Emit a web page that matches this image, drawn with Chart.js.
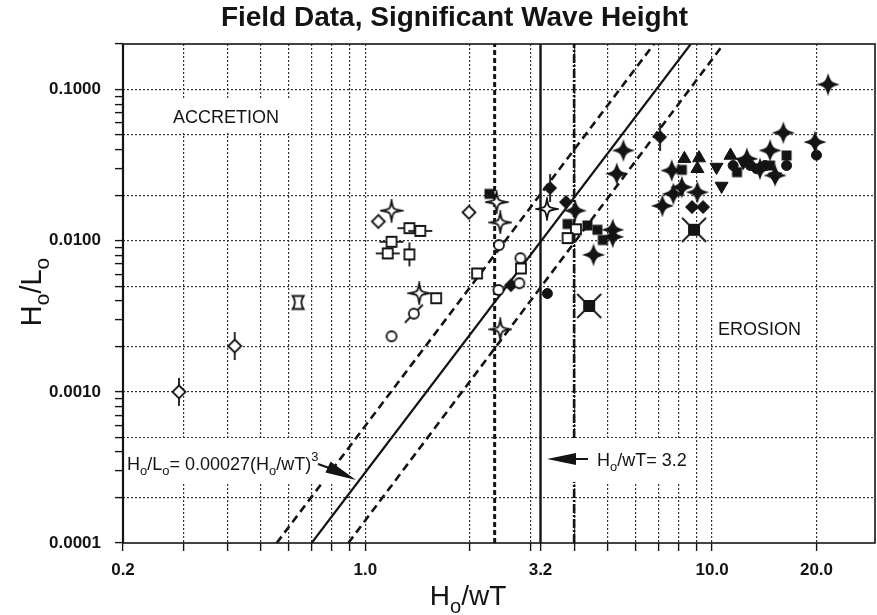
<!DOCTYPE html>
<html>
<head>
<meta charset="utf-8">
<script src="https://cdn.jsdelivr.net/npm/chart.js@4.4.0/dist/chart.umd.min.js"></script>
<style>
  html, body { margin: 0; padding: 0; background: #fff; }
</style>
</head>
<body>
<canvas id="waveChart" width="877" height="615"></canvas>
<script>
// field data, [Ho/wT, Ho/Lo]
const openDiamondBar = [[0.29, 0.00100], [0.42, 0.00201]];
const openDiamond = [[1.09, 0.0134], [1.99, 0.0154]];
const openStar = [[1.19, 0.0158], [1.43, 0.00449], [2.39, 0.0180], [2.45, 0.0132], [3.34, 0.0162], [2.45, 0.00259]];
const openSquareHBar = [[1.34, 0.0121], [1.44, 0.0116], [1.19, 0.00983], [1.16, 0.00824]];
const openSquareVBar = [[1.34, 0.00811]];
const openSquare = [[2.10, 0.00607], [1.60, 0.00416], [2.81, 0.00655], [4.05, 0.0119], [3.83, 0.0104]];
const openCircle = [[1.19, 0.00233], [2.43, 0.00935], [2.80, 0.00766], [2.78, 0.00523], [2.42, 0.00472]];
const openCircleBar = [[1.38, 0.00329]];
const bowtie = [[0.64, 0.0039]];
const filledSquare = [[2.28, 0.0204], [3.83, 0.0129], [4.37, 0.0126], [4.67, 0.0118], [4.84, 0.0101],
  [8.18, 0.0294], [16.4, 0.0366], [11.8, 0.0284], [14.7, 0.0314]];
const filledDiamond = [[3.79, 0.0180], [8.75, 0.0167], [9.42, 0.0167], [2.63, 0.00508]];
const filledDiamondBar = [[3.41, 0.0223], [7.08, 0.0485]];
const filledStar = [[4.03, 0.0158], [5.17, 0.0118], [5.17, 0.0106], [4.55, 0.00806], [5.31, 0.0277],
  [5.55, 0.0395], [7.65, 0.0291], [8.18, 0.0226], [7.73, 0.0204], [9.07, 0.0209], [7.19, 0.0170],
  [14.7, 0.0395], [15.2, 0.0270], [16.05, 0.0518], [19.8, 0.0449], [21.6, 0.108], [13.75, 0.0299], [12.6, 0.0348]];
const filledTriangle = [[8.32, 0.0348], [9.17, 0.0352], [9.07, 0.0299], [11.3, 0.0366]];
const invertedTriangle = [[10.65, 0.0230], [10.3, 0.0307], [12.3, 0.0331], [15.2, 0.0265]];
const filledCircle = [[3.35, 0.00447], [20.0, 0.0368], [11.5, 0.0314], [12.9, 0.0314], [13.45, 0.0299],
  [14.2, 0.0314], [16.4, 0.0314]];
const crossSquare = [[4.42, 0.0037], [8.87, 0.0118]];

// reference lines
const fitLine = [[0.70, 0.0001], [8.68, 0.2]];
const upperBand = [[0.555, 0.0001], [6.8, 0.2]];
const lowerBand = [[0.893, 0.0001], [10.8, 0.2]];
const limitLow = [[2.36, 0.0001], [2.36, 0.2]];
const limitMid = [[3.2, 0.0001], [3.2, 0.2]];
const limitHigh = [[4.0, 0.0001], [4.0, 0.2]];

// axes
const xTicks = [0.2, 0.3, 0.4, 0.5, 0.6, 0.7, 0.8, 0.9, 1, 2, 3, 3.2, 4, 5, 6, 7, 8, 9, 10, 20];
const xLabelValues = [0.2, 1, 3.2, 10, 20];
const xLabelText = ['0.2', '1.0', '3.2', '10.0', '20.0'];
const xNoGrid = [0.2, 3.2];
const yLabelValues = [0.0001, 0.001, 0.01, 0.1];
const yLabelText = ['0.0001', '0.0010', '0.0100', '0.1000'];
const yGrid = [0.0002, 0.0005, 0.001, 0.002, 0.005, 0.01, 0.02, 0.05, 0.1];

const FONT = '"Liberation Sans", Arial, Helvetica, sans-serif';
const INK = '#141414';

const same = (a, b) => Math.abs(a - b) / b < 1e-6;
const findIdx = (arr, v) => arr.findIndex(a => same(a, v));
const pts = arr => arr.map(([x, y]) => ({ x, y }));

// y minor tick marks at 1..9 of each decade
const yTicks = [];
[0.0001, 0.001, 0.01, 0.1].forEach(d => {
  for (let k = 1; k <= 9; k++) if (d * k <= 0.2 + 1e-9) yTicks.push(+(d * k).toPrecision(3));
});

// ---- marker glyphs ----
function makeMarker(w, h, draw) {
  const c = document.createElement('canvas');
  c.width = w; c.height = h;
  const g = c.getContext('2d');
  g.lineWidth = 1.8; g.strokeStyle = INK; g.fillStyle = INK;
  draw(g, w / 2, h / 2);
  return c;
}
function starPath(g, cx, cy, R, t) {
  const k = R * t;
  const tips = [[0, -R], [R, 0], [0, R], [-R, 0]];
  const ctl = [[k, -k], [k, k], [-k, k], [-k, -k]];
  g.beginPath();
  g.moveTo(cx + tips[0][0], cy + tips[0][1]);
  for (let i = 0; i < 4; i++) {
    const n = tips[(i + 1) % 4];
    g.bezierCurveTo(cx + ctl[i][0], cy + ctl[i][1], cx + ctl[i][0], cy + ctl[i][1], cx + n[0], cy + n[1]);
  }
  g.closePath();
}
function diamondPath(g, cx, cy, r) {
  g.beginPath();
  g.moveTo(cx, cy - r); g.lineTo(cx + r, cy); g.lineTo(cx, cy + r); g.lineTo(cx - r, cy);
  g.closePath();
}
function bar(g, x1, y1, x2, y2) {
  g.beginPath(); g.moveTo(x1, y1); g.lineTo(x2, y2); g.stroke();
}
const hollow = g => { g.fillStyle = '#fff'; g.fill(); g.stroke(); };

const mOpenStar = makeMarker(24, 24, (g, cx, cy) => { starPath(g, cx, cy, 10, 0.14); hollow(g); });
const mFillStar = makeMarker(26, 26, (g, cx, cy) => { starPath(g, cx, cy, 11.5, 0.24); g.fill(); });
const mOpenDiamond = makeMarker(18, 18, (g, cx, cy) => { diamondPath(g, cx, cy, 6.5); hollow(g); });
const mOpenDiamondBar = makeMarker(18, 32, (g, cx, cy) => {
  bar(g, cx, cy - 14, cx, cy + 14); diamondPath(g, cx, cy, 6.5); hollow(g);
});
const mOpenSquare = makeMarker(14, 14, (g, cx, cy) => { g.beginPath(); g.rect(cx - 5, cy - 5, 10, 10); hollow(g); });
const mOpenSquareH = makeMarker(26, 14, (g, cx, cy) => {
  bar(g, cx - 12, cy, cx + 12, cy); g.beginPath(); g.rect(cx - 5, cy - 5, 10, 10); hollow(g);
});
const mOpenSquareV = makeMarker(14, 26, (g, cx, cy) => {
  bar(g, cx, cy - 12, cx, cy + 12); g.beginPath(); g.rect(cx - 5, cy - 5, 10, 10); hollow(g);
});
const mOpenCircle = makeMarker(14, 14, (g, cx, cy) => { g.beginPath(); g.arc(cx, cy, 5, 0, Math.PI * 2); hollow(g); });
const mOpenCircleBar = makeMarker(22, 22, (g, cx, cy) => {
  bar(g, cx - 9, cy + 9, cx + 9, cy - 9); g.beginPath(); g.arc(cx, cy, 5, 0, Math.PI * 2); hollow(g);
});
const mBowtie = makeMarker(16, 18, (g, cx, cy) => {
  g.beginPath();
  g.moveTo(cx - 5.5, cy - 6.5); g.lineTo(cx + 5.5, cy - 6.5);
  g.quadraticCurveTo(cx + 1, cy, cx + 5.5, cy + 6.5);
  g.lineTo(cx - 5.5, cy + 6.5);
  g.quadraticCurveTo(cx - 1, cy, cx - 5.5, cy - 6.5);
  g.closePath(); hollow(g);
});
const mFillSquare = makeMarker(13, 13, (g, cx, cy) => { g.fillRect(cx - 5, cy - 5, 10, 10); });
const mFillDiamond = makeMarker(16, 16, (g, cx, cy) => { diamondPath(g, cx, cy, 7); g.fill(); });
const mFillDiamondBar = makeMarker(16, 32, (g, cx, cy) => {
  bar(g, cx, cy - 14, cx, cy + 14); diamondPath(g, cx, cy, 7); g.fill();
});
const mCrossSquare = makeMarker(28, 28, (g, cx, cy) => {
  bar(g, cx - 12, cy - 12, cx + 12, cy + 12); bar(g, cx - 12, cy + 12, cx + 12, cy - 12);
  g.fillRect(cx - 6, cy - 6, 12, 12);
});

function markerSet(label, data, style, extra) {
  return Object.assign({
    label, data: pts(data), pointStyle: style, pointRadius: 6,
    backgroundColor: INK, borderColor: INK, borderWidth: 1, showLine: false, order: 0
  }, extra || {});
}
function lineSet(label, data, dash, width, order) {
  return {
    label, data: pts(data), showLine: true, borderColor: INK, backgroundColor: INK,
    borderWidth: width, borderDash: dash, pointRadius: 0, order
  };
}

// ---- text helpers ----
function richText(ctx, parts, x, y, size, align) {
  const font = k => (k ? size * 0.72 : size) + 'px ' + FONT;
  let total = 0;
  parts.forEach(([t, k]) => { ctx.font = font(k); total += ctx.measureText(t).width; });
  let cx = align === 'center' ? x - total / 2 : x;
  ctx.textAlign = 'left';
  ctx.textBaseline = 'alphabetic';
  parts.forEach(([t, k]) => {
    ctx.font = font(k);
    const dy = k === 1 ? size * 0.28 : k === 2 ? -size * 0.48 : 0;
    ctx.fillText(t, cx, y + dy);
    cx += ctx.measureText(t).width;
  });
  return total;
}
function arrowHead(ctx, tipX, tipY, backX, backY, half) {
  const a = Math.atan2(tipY - backY, tipX - backX);
  const nx = -Math.sin(a) * half, ny = Math.cos(a) * half;
  ctx.beginPath();
  ctx.moveTo(tipX, tipY);
  ctx.lineTo(backX + nx, backY + ny);
  ctx.lineTo(backX - nx, backY - ny);
  ctx.closePath();
  ctx.fill();
}

const annotations = {
  id: 'annotations',
  afterDatasetDraw(chart, args) {
    if (chart.data.datasets[args.index].label !== 'Ho/wT = 4.0') return;
    const ctx = chart.ctx;
    ctx.save();
    ctx.fillStyle = '#fff';
    ctx.fillRect(168, 100, 124, 33);
    ctx.fillRect(124, 438, 210, 45);
    ctx.fillRect(545, 438, 148, 44);

    ctx.fillStyle = INK;
    ctx.strokeStyle = INK;
    ctx.font = '18px ' + FONT;
    ctx.textBaseline = 'middle';
    ctx.textAlign = 'left';
    ctx.fillText('ACCRETION', 173, 118);
    ctx.fillText('EROSION', 718, 330);

    richText(ctx, [['H', 0], ['o', 1], ['/L', 0], ['o', 1], ['= 0.00027(H', 0], ['o', 1], ['/wT)', 0], ['3', 2]],
      127, 470, 18, 'left');
    ctx.lineWidth = 2;
    ctx.beginPath(); ctx.moveTo(318, 464); ctx.lineTo(332, 469); ctx.stroke();
    arrowHead(ctx, 356, 480, 328, 467, 6);

    ctx.beginPath(); ctx.moveTo(575, 459); ctx.lineTo(588, 459); ctx.stroke();
    arrowHead(ctx, 547, 459, 576, 459, 6);
    richText(ctx, [['H', 0], ['o', 1], ['/wT= 3.2', 0]], 597, 466, 18, 'left');
    ctx.restore();
  },
  afterDraw(chart) {
    const ctx = chart.ctx;
    const a = chart.chartArea;
    ctx.save();
    ctx.strokeStyle = INK;
    ctx.lineWidth = 1.6;
    ctx.strokeRect(a.left, a.top, a.right - a.left, a.bottom - a.top);
    ctx.lineWidth = 2.2;
    ctx.beginPath(); ctx.moveTo(a.left, a.top); ctx.lineTo(a.left, a.bottom); ctx.stroke();

    ctx.fillStyle = INK;
    richText(ctx, [['H', 0], ['o', 1], ['/wT', 0]], 468, 605, 28, 'center');
    ctx.translate(41, 292);
    ctx.rotate(-Math.PI / 2);
    richText(ctx, [['H', 0], ['o', 1], ['/L', 0], ['o', 1]], 0, 0, 29, 'center');
    ctx.restore();
  }
};

window.onload = function() {
  const ctx = document.getElementById('waveChart').getContext('2d');

  window.waveChart = new Chart(ctx, {
    type: 'scatter',
    data: {
      datasets: [
        markerSet('open diamond, bar', openDiamondBar, mOpenDiamondBar),
        markerSet('open diamond', openDiamond, mOpenDiamond),
        markerSet('open star', openStar, mOpenStar),
        markerSet('open square, bar', openSquareHBar, mOpenSquareH),
        markerSet('open square, vbar', openSquareVBar, mOpenSquareV),
        markerSet('open square', openSquare, mOpenSquare),
        markerSet('open circle', openCircle, mOpenCircle),
        markerSet('open circle, bar', openCircleBar, mOpenCircleBar),
        markerSet('bowtie', bowtie, mBowtie),
        markerSet('filled square', filledSquare, mFillSquare),
        markerSet('filled diamond', filledDiamond, mFillDiamond),
        markerSet('filled diamond, bar', filledDiamondBar, mFillDiamondBar),
        markerSet('filled triangle', filledTriangle, 'triangle', { pointRadius: 7.5 }),
        markerSet('inverted triangle', invertedTriangle, 'triangle', { pointRadius: 7.5, rotation: 180 }),
        markerSet('filled circle', filledCircle, 'circle', { pointRadius: 5 }),
        markerSet('crossed square', crossSquare, mCrossSquare),
        markerSet('filled star', filledStar, mFillStar),
        lineSet('Ho/wT = 4.0', limitHigh, [9, 2, 2, 2], 2.6, 1),
        lineSet('Ho/wT = 3.2', limitMid, [], 2.4, 2),
        lineSet('Ho/wT = 2.36', limitLow, [5, 3], 3, 2),
        lineSet('Ho/Lo = 0.00027(Ho/wT)^3', fitLine, [], 2.2, 2),
        lineSet('upper band', upperBand, [8, 5], 2.6, 2),
        lineSet('lower band', lowerBand, [8, 5], 2.6, 2)
      ]
    },
    options: {
      responsive: false,
      animation: false,
      events: [],
      layout: { autoPadding: false, padding: { left: 34, right: 2 } },
      plugins: {
        legend: { display: false },
        tooltip: { enabled: false },
        title: {
          display: true,
          text: 'Field Data, Significant Wave Height',
          color: INK,
          font: { family: FONT, size: 28, weight: 'bold' },
          padding: { top: 1, bottom: 9.4 }
        }
      },
      scales: {
        x: {
          type: 'logarithmic',
          min: 0.2,
          max: 29.5,
          afterBuildTicks: s => { s.ticks = xTicks.map(v => ({ value: v })); },
          afterFit: s => { s.height = 72; s.paddingLeft = 0; s.paddingRight = 0; },
          border: { display: false, dash: [2, 2] },
          grid: {
            color: c => (c.tick && findIdx(xNoGrid, c.tick.value) < 0) ? '#333' : 'rgba(0,0,0,0)',
            tickColor: INK,
            tickLength: 8,
            tickWidth: 1.4,
            lineWidth: 1.2
          },
          ticks: {
            autoSkip: false,
            maxRotation: 0,
            padding: 9,
            color: INK,
            font: { family: FONT, size: 17, weight: 'bold' },
            callback: v => { const i = findIdx(xLabelValues, v); return i < 0 ? '' : xLabelText[i]; }
          }
        },
        y: {
          type: 'logarithmic',
          min: 0.0001,
          max: 0.2,
          afterBuildTicks: s => { s.ticks = yTicks.map(v => ({ value: v })); },
          afterFit: s => { s.width = 89; },
          border: { display: false, dash: [2, 2] },
          grid: {
            color: c => (c.tick && findIdx(yGrid, c.tick.value) >= 0) ? '#333' : 'rgba(0,0,0,0)',
            tickColor: INK,
            tickLength: 8,
            tickWidth: 1.4,
            lineWidth: 1.2
          },
          ticks: {
            autoSkip: false,
            padding: 14,
            color: INK,
            font: { family: FONT, size: 17, weight: 'bold' },
            callback: v => { const i = findIdx(yLabelValues, v); return i < 0 ? '' : yLabelText[i]; }
          }
        }
      }
    },
    plugins: [annotations]
  });
};
</script>
</body>
</html>
